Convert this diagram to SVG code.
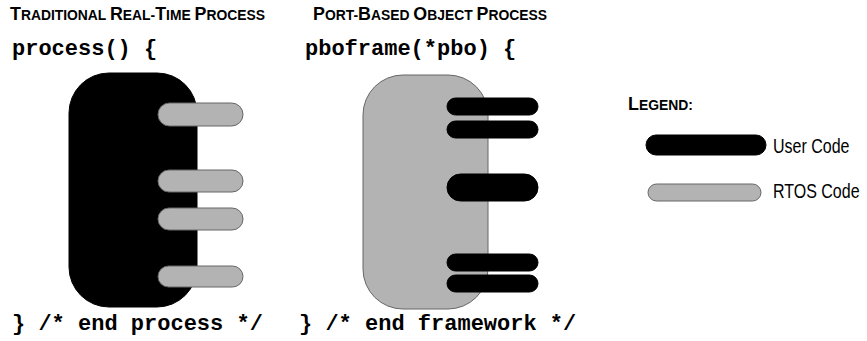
<svg xmlns="http://www.w3.org/2000/svg" width="867" height="341" viewBox="0 0 867 341">
<style>
.title{font-family:"Liberation Sans",Arial,sans-serif;font-weight:bold;font-size:18px;fill:#000}
.sc{font-size:14px}
.code{font-family:"Liberation Mono","Courier New",monospace;font-weight:bold;font-size:22px;fill:#000}
.lbl{font-family:"Liberation Sans",Arial,sans-serif;font-size:20px;fill:#000}
.user{fill:#000;stroke:#000;stroke-width:1}
.rtos{fill:#b3b3b3;stroke:#666;stroke-width:1}
</style>
<rect width="867" height="341" fill="#fff"/>
<g id="title-traditional">
<text class="title" x="10" y="20" textLength="255" lengthAdjust="spacingAndGlyphs">T<tspan class="sc">RADITIONAL </tspan>R<tspan class="sc">EAL-</tspan>T<tspan class="sc">IME </tspan>P<tspan class="sc">ROCESS</tspan></text>
</g>
<g id="title-pbo">
<text class="title" x="313" y="20" textLength="234" lengthAdjust="spacingAndGlyphs">P<tspan class="sc">ORT-</tspan>B<tspan class="sc">ASED </tspan>O<tspan class="sc">BJECT </tspan>P<tspan class="sc">ROCESS</tspan></text>
</g>
<g id="code-traditional">
<text class="code" x="12" y="55">process() {</text>
<text class="code" x="12" y="330">} /* end process */</text>
</g>
<g id="code-pbo">
<text class="code" x="305" y="55">pboframe(*pbo) {</text>
<text class="code" x="299" y="330">} /* end framework */</text>
</g>
<g id="traditional-process">
<rect class="user" x="69" y="73" width="128" height="234" rx="40" ry="40"/>
<rect class="rtos" x="158" y="103" width="85" height="23" rx="11.5" ry="11.5"/>
<rect class="rtos" x="158" y="170" width="85" height="22" rx="11" ry="11"/>
<rect class="rtos" x="158" y="208" width="85" height="22" rx="11" ry="11"/>
<rect class="rtos" x="158" y="266" width="85" height="21" rx="10.5" ry="10.5"/>
</g>
<g id="pbo-process">
<rect class="rtos" x="363" y="75" width="125" height="234" rx="40" ry="40"/>
<rect class="user" x="447" y="98" width="91" height="17" rx="8.5" ry="8.5"/>
<rect class="user" x="447" y="121" width="91" height="17" rx="8.5" ry="8.5"/>
<rect class="user" x="447" y="174" width="91" height="27" rx="13.5" ry="13.5"/>
<rect class="user" x="447" y="254" width="91" height="17" rx="8.5" ry="8.5"/>
<rect class="user" x="447" y="275" width="91" height="17" rx="8.5" ry="8.5"/>
</g>
<g id="legend">
<text class="title" x="628" y="110" textLength="65" lengthAdjust="spacingAndGlyphs">L<tspan class="sc">EGEND:</tspan></text>
<rect class="user" x="646" y="135" width="120" height="20" rx="10" ry="10"/>
<text class="lbl" transform="translate(773,153) scale(0.8,1)" x="0" y="0">User Code</text>
<rect class="rtos" x="648" y="184" width="113" height="17" rx="8.5" ry="8.5"/>
<text class="lbl" transform="translate(773,198) scale(0.8,1)" x="0" y="0">RTOS Code</text>
</g>
</svg>
